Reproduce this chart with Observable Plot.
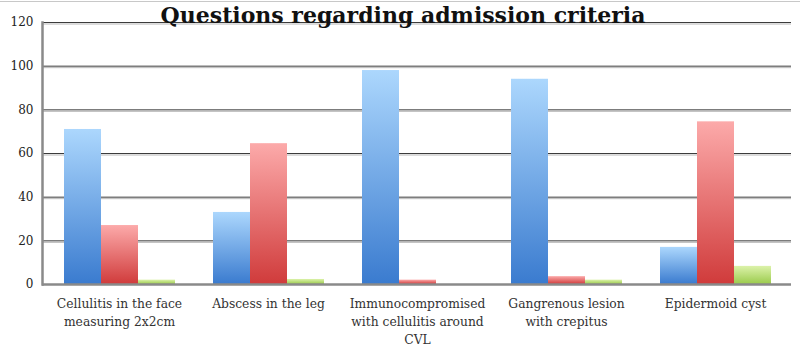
<!DOCTYPE html>
<html>
<head>
<meta charset="utf-8">
<script src="https://cdn.jsdelivr.net/npm/d3@7"></script>
<script src="https://cdn.jsdelivr.net/npm/@observablehq/plot@0.6"></script>
<style>
  html, body { margin: 0; padding: 0; background: #fff; }
  #wrap { position: relative; width: 800px; height: 354px; }
  #wrap svg { position: absolute; left: 0; top: 0; }
  #topline { position: absolute; left: 0; top: 1px; width: 800px; height: 1px; background: #c8c8c8; }
</style>
</head>
<body>
<div id="wrap"><div id="topline"></div></div>
<script>
const title = "Questions regarding admission criteria";
const categories = [
  "Cellulitis in the face measuring 2x2cm",
  "Abscess in the leg",
  "Immunocompromised with cellulitis around CVL",
  "Gangrenous lesion with crepitus",
  "Epidermoid cyst"
];
const categoryLabels = [
  "Cellulitis in the face\nmeasuring 2x2cm",
  "Abscess in the leg",
  "Immunocompromised\nwith cellulitis around\nCVL",
  "Gangrenous lesion\nwith crepitus",
  "Epidermoid cyst"
];
const seriesNames = ["A", "B", "C"];
const blueValues = [71, 33, 98, 94, 17];
const redValues = [27, 64.5, 2, 3.6, 74.5];
const greenValues = [2, 2.3, 0, 2, 8.3];
const yTicks = [0, 20, 40, 60, 80, 100, 120];

const rows = (vals, s) => categories.map((c, i) => ({category: c, series: s, value: vals[i]}));
const blueRows = rows(blueValues, seriesNames[0]);
const redRows = rows(redValues, seriesNames[1]);
const greenRows = rows(greenValues, seriesNames[2]);
const labelOf = new Map(categories.map((c, i) => [c, categoryLabels[i]]));

const dims = {width: 800, height: 354, marginLeft: 42, marginRight: 9, marginTop: 22, marginBottom: 70};
const band = {domain: categories, paddingInner: 0.25, paddingOuter: 0.125};
const yScale = {domain: [0, 120]};

function gradientDefs() {
  const ns = "http://www.w3.org/2000/svg";
  const defs = document.createElementNS(ns, "defs");
  const grads = [
    ["gBlue", "#acd7fd", "#3a7bcf"],
    ["gRed", "#fcaaaa", "#d03b3b"],
    ["gGreen", "#dcf2aa", "#9bcb4c"]
  ];
  for (const [id, top, bottom] of grads) {
    const g = document.createElementNS(ns, "linearGradient");
    g.setAttribute("id", id);
    g.setAttribute("x1", "0"); g.setAttribute("y1", "0");
    g.setAttribute("x2", "0"); g.setAttribute("y2", "1");
    const s1 = document.createElementNS(ns, "stop");
    s1.setAttribute("offset", "0"); s1.setAttribute("stop-color", top);
    const s2 = document.createElementNS(ns, "stop");
    s2.setAttribute("offset", "1"); s2.setAttribute("stop-color", bottom);
    g.appendChild(s1); g.appendChild(s2);
    defs.appendChild(g);
  }
  return defs;
}

// Background layer: grid, axes, labels, title
const back = Plot.plot({
  ...dims,
  style: {background: "transparent", overflow: "visible"},
  x: {...band, label: null, axis: null},
  y: {...yScale, label: null, axis: null},
  marks: [
    Plot.ruleY(yTicks.filter(d => d > 0), {stroke: "#b8b8b8", strokeWidth: 1, dy: 1.5}),
    Plot.ruleY(yTicks.filter(d => d > 0), {stroke: "#3c3c3c", strokeWidth: 1}),
    Plot.axisY({
      ticks: yTicks,
      tickSize: 0,
      tickPadding: 9,
      fontSize: 12,
      fontFamily: "DejaVu Serif",
      label: null,
      fill: "#222"
    }),
    Plot.axisX({
      anchor: "bottom",
      tickSize: 0,
      tickPadding: 11,
      fontSize: 12.3,
      fontFamily: "DejaVu Serif",
      lineHeight: 1.46,
      label: null,
      fill: "#333",
      tickFormat: d => labelOf.get(d)
    }),
    Plot.text([title], {
      frameAnchor: "top",
      dy: -7,
      dx: -14,
      text: d => d,
      fontSize: 22,
      fontWeight: "bold",
      fontFamily: "DejaVu Serif",
      fill: "#111",
      lineAnchor: "middle"
    })
  ]
});

// Foreground layer: grouped bars
const front = Plot.plot({
  ...dims,
  style: {background: "transparent", overflow: "visible"},
  fx: {...band, label: null, axis: null},
  x: {domain: seriesNames, padding: 0, axis: null},
  y: {...yScale, label: null, axis: null},
  marks: [
    gradientDefs,
    Plot.barY(blueRows, {fx: "category", x: "series", y: "value", fill: "url(#gBlue)"}),
    Plot.barY(redRows, {fx: "category", x: "series", y: "value", fill: "url(#gRed)"}),
    Plot.barY(greenRows, {fx: "category", x: "series", y: "value", fill: "url(#gGreen)"})
  ]
});

// Axis lines layer (on top of bars)
const axes = Plot.plot({
  ...dims,
  style: {background: "transparent", overflow: "visible"},
  x: {...band, axis: null},
  y: {...yScale, axis: null},
  marks: [
    Plot.ruleY([0], {stroke: "#8a8a8a", strokeWidth: 2.5}),
    Plot.frame({anchor: "left", stroke: "#8a8a8a", strokeWidth: 2.5})
  ]
});

const wrap = document.getElementById("wrap");
wrap.appendChild(back);
wrap.appendChild(front);
wrap.appendChild(axes);
</script>
</body>
</html>
